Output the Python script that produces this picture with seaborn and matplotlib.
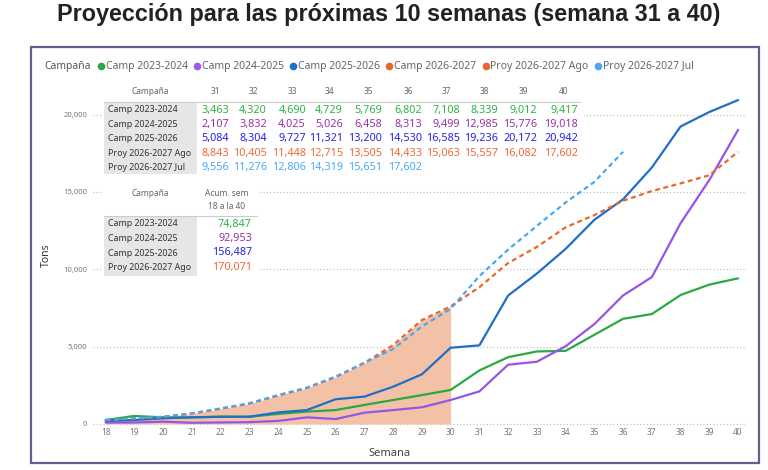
import numpy as np
import pandas as pd
import matplotlib
matplotlib.use("Agg")
import matplotlib.pyplot as plt
import seaborn as sns
from matplotlib.lines import Line2D
from matplotlib.patches import Rectangle

weeks = list(range(18, 41))

# weekly tons per campaign (18-30, 31-40 from the table)
camp_2324 = [260, 520, 430, 430, 470, 470, 650, 800, 900, 1230, 1550, 1870, 2200,
             3463, 4320, 4690, 4729, 5769, 6802, 7108, 8339, 9012, 9417]
camp_2425 = [90, 100, 150, 80, 100, 120, 200, 430, 320, 730, 900, 1080, 1550,
             2107, 3832, 4025, 5026, 6458, 8313, 9499, 12985, 15776, 19018]
camp_2526 = [200, 260, 370, 430, 470, 470, 750, 900, 1600, 1770, 2410, 3210, 4930,
             5084, 8304, 9727, 11321, 13200, 14530, 16585, 19236, 20172, 20942]
proy_ago = [250, 360, 460, 680, 990, 1320, 1840, 2330, 3040, 3950, 5100, 6720, 7600,
            8843, 10405, 11448, 12715, 13505, 14433, 15063, 15557, 16082, 17602]
proy_jul = [260, 370, 470, 690, 1010, 1340, 1870, 2350, 3060, 3960, 4850, 6300, 7450,
            9556, 11276, 12806, 14319, 15651, 17602]
weeks_2627 = list(range(18, 31))
camp_2627 = [250, 360, 460, 680, 990, 1320, 1840, 2330, 3040, 3950, 5100, 6720, 7600]

table_weeks = list(range(31, 41))
acum_labels = ["Camp 2023-2024", "Camp 2024-2025", "Camp 2025-2026", "Proy 2026-2027 Ago"]
acum_values = [74847, 92953, 156487, 170071]

line_colors = {"Camp 2023-2024": "#2CA843", "Camp 2024-2025": "#9455E8",
               "Camp 2025-2026": "#1F6FC6", "Proy 2026-2027 Ago": "#E8672A",
               "Proy 2026-2027 Jul": "#4AA6F0"}
text_colors = {"Camp 2023-2024": "#2DB34A", "Camp 2024-2025": "#9932A8",
               "Camp 2025-2026": "#2323E6", "Proy 2026-2027 Ago": "#EE6A35",
               "Proy 2026-2027 Jul": "#4BA8F5"}

series = {"Camp 2023-2024": camp_2324, "Camp 2024-2025": camp_2425,
          "Camp 2025-2026": camp_2526, "Proy 2026-2027 Ago": proy_ago,
          "Proy 2026-2027 Jul": proy_jul}

rows = []
for name, vals in series.items():
    for w, v in zip(weeks, vals):
        rows.append({"Semana": w, "Tons": v, "Serie": name})
df = pd.DataFrame(rows)

sns.set_theme(style="white")
plt.rcParams["font.family"] = ["Noto Sans", "DejaVu Sans"]

W, H = 768, 470
fig = plt.figure(figsize=(W / 100, H / 100), dpi=100)
ax = fig.add_axes([93 / W, 1 - 427 / H, (745 - 93) / W, (427 - 80) / H])


def fx(x):
    return x / W


def fy(y):
    return 1 - y / H


ax.fill_between(weeks_2627, camp_2627, 0, color="#F3C1A6", lw=0, zorder=1)

sns.lineplot(data=df, x="Semana", y="Tons", hue="Serie", style="Serie",
             hue_order=list(series), style_order=list(series),
             palette=line_colors,
             dashes={"Camp 2023-2024": "", "Camp 2024-2025": "", "Camp 2025-2026": "",
                     "Proy 2026-2027 Ago": (2.2, 1.6), "Proy 2026-2027 Jul": (2.2, 1.6)},
             linewidth=1.6, legend=False, ax=ax, zorder=3)

ax.set_xlim(17.56, 40.24)
ax.set_ylim(-194, 22240)
ax.set_xticks(weeks)
ax.set_yticks([0, 5000, 10000, 15000, 20000])
ax.set_yticklabels(["0", "5,000", "10,000", "15,000", "20,000"])
ax.tick_params(axis="y", labelsize=5.5, labelcolor="#777777", pad=4, length=0)
ax.tick_params(axis="x", labelsize=6, labelcolor="#777777", pad=1, length=0)
for lab in ax.get_xticklabels():
    lab.set_fontweight("bold")
ax.grid(axis="y", color="#BBBBBB", linestyle=(0, (1, 2)), linewidth=0.8)
ax.grid(axis="x", visible=False)
for s in ax.spines.values():
    s.set_visible(False)

ax.set_ylabel("Tons", fontsize=7.5, fontweight="bold", color="#333333")
ax.yaxis.set_label_coords(-0.063, 0.496)
ax.set_xlabel("Semana", fontsize=8, color="#444444")
ax.xaxis.set_label_coords(0.455, -0.06)

# title and frame
fig.text(fx(388.5), fy(14), "Proyección para las próximas 10 semanas (semana 31 a 40)",
         ha="center", va="center", fontsize=16.8, fontweight="bold",
         family="Liberation Sans", color="#222222")
fig.add_artist(Rectangle((fx(31), fy(463)), fx(759 - 31), (463 - 47) / H,
                         transform=fig.transFigure, fill=False,
                         edgecolor="#6B5B8E", linewidth=1.6, zorder=5))

# legend
fig.text(fx(44), fy(67), "Campaña", fontsize=7.4, fontweight="bold", color="#555555",
         va="center")
legend_items = [("Camp 2023-2024", "#2CA843"), ("Camp 2024-2025", "#9B5DE5"),
                ("Camp 2025-2026", "#1F6FC6"), ("Camp 2026-2027", "#E8672A"),
                ("Proy 2026-2027 Ago", "#E8672A"), ("Proy 2026-2027 Jul", "#4AA6F0")]
handles = [Line2D([], [], marker="o", linestyle="none", markersize=4.5,
                  markerfacecolor=c, markeredgecolor=c, label=l) for l, c in legend_items]
fig.legend(handles=handles, loc="center left", bbox_to_anchor=(fx(98), fy(67)),
           ncol=6, frameon=False, fontsize=7.5, labelcolor="#666666",
           handlelength=0.6, handletextpad=0.15, columnspacing=0.6,
           borderpad=0, borderaxespad=0)

# table 1 : weeks 31-40
fig.add_artist(Rectangle((fx(102), fy(176)), fx(584 - 102), (176 - 80) / H,
                         transform=fig.transFigure, facecolor="white",
                         edgecolor="none", zorder=2))
fig.add_artist(Rectangle((fx(104), fy(174)), fx(197 - 104), (174 - 102) / H,
                         transform=fig.transFigure, facecolor="#E6E6E6",
                         edgecolor="none", zorder=3))
fig.add_artist(Line2D([fx(104), fx(580)], [fy(101.5), fy(101.5)],
                      transform=fig.transFigure, color="#CCCCCC", lw=0.8, zorder=3))
fig.text(fx(150.5), fy(91), "Campaña", fontsize=6, fontweight="bold", color="#666666",
         ha="center", va="center", zorder=4)
col_right = [229, 267, 306, 343, 382, 422, 460, 498, 537, 578]
row_y = [110, 124.5, 139, 153, 167.5]
for w, xr in zip(table_weeks, col_right):
    fig.text(fx(xr - 14), fy(91), str(w), fontsize=6, fontweight="bold",
             color="#666666", ha="center", va="center", zorder=4)
for (name, vals), y in zip(series.items(), row_y):
    fig.text(fx(108), fy(y), name, fontsize=6.4, fontweight="bold", color="#333333",
             va="center", zorder=4)
    for v, xr in zip(vals[13:], col_right):
        fig.text(fx(xr), fy(y), f"{v:,}", fontsize=7.8, color=text_colors[name],
                 ha="right", va="center", zorder=4)

# table 2 : accumulated weeks 18 to 40
fig.add_artist(Rectangle((fx(102), fy(278)), fx(259 - 102), (278 - 184) / H,
                         transform=fig.transFigure, facecolor="white",
                         edgecolor="none", zorder=2))
fig.add_artist(Rectangle((fx(104), fy(276)), fx(197 - 104), (276 - 217) / H,
                         transform=fig.transFigure, facecolor="#E6E6E6",
                         edgecolor="none", zorder=3))
fig.add_artist(Line2D([fx(104), fx(257)], [fy(216), fy(216)],
                      transform=fig.transFigure, color="#CCCCCC", lw=0.8, zorder=3))
fig.text(fx(150.5), fy(194), "Campaña", fontsize=6, fontweight="bold", color="#666666",
         ha="center", va="center", zorder=4)
fig.text(fx(227), fy(194), "Acum. sem", fontsize=6, fontweight="bold", color="#666666",
         ha="center", va="center", zorder=4)
fig.text(fx(227), fy(206), "18 a la 40", fontsize=6, fontweight="bold", color="#666666",
         ha="center", va="center", zorder=4)
for name, v, y in zip(acum_labels, acum_values, [224, 238.5, 253, 267.5]):
    fig.text(fx(108), fy(y), name, fontsize=6.4, fontweight="bold", color="#333333",
             va="center", zorder=4)
    fig.text(fx(252), fy(y), f"{v:,}", fontsize=7.8, color=text_colors[name],
             ha="right", va="center", zorder=4)

fig.savefig("out.png", dpi=100)
